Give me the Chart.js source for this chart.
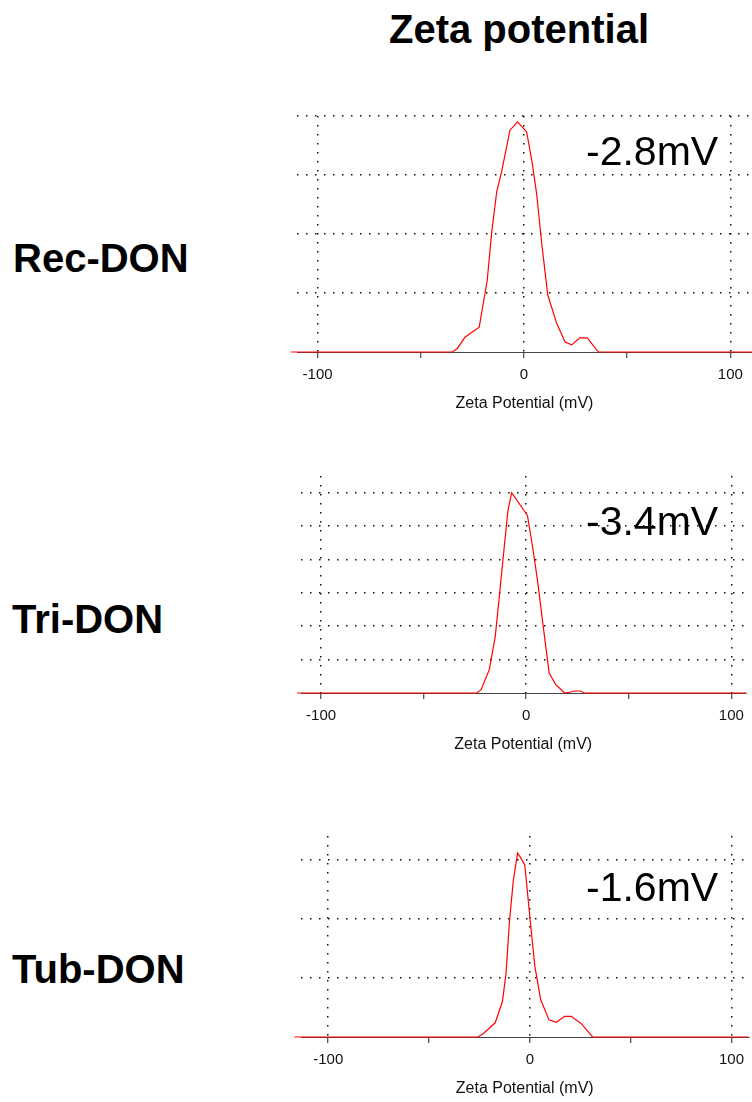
<!DOCTYPE html>
<html>
<head>
<meta charset="utf-8">
<script src="https://cdn.jsdelivr.net/npm/chart.js@4.4.1/dist/chart.umd.min.js"></script>
<style>
  body { margin: 0; background: #fff; width: 752px; height: 1102px; position: relative; overflow: hidden; font-family: 'Liberation Sans', Arial, sans-serif; }
  canvas { position: absolute; }
  .big { position: absolute; font-size: 40px; line-height: 40px; font-weight: bold; color: #000; white-space: nowrap; }
  .note { position: absolute; font-size: 41px; line-height: 40px; color: #000; white-space: nowrap; }
</style>
</head>
<body>
<div class="big" style="left:389px;top:9px">Zeta potential</div>
<div class="big" style="left:13px;top:238px">Rec-DON</div>
<div class="big" style="left:12px;top:599px">Tri-DON</div>
<div class="big" style="left:12px;top:949px">Tub-DON</div>

<canvas id="rec" width="472" height="305" style="left:280px;top:108px"></canvas>
<canvas id="tri" width="472" height="286" style="left:280px;top:468px"></canvas>
<canvas id="tub" width="472" height="270" style="left:280px;top:828px"></canvas>

<div class="note" style="left:586px;top:131px">-2.8mV</div>
<div class="note" style="left:586px;top:501px">-3.4mV</div>
<div class="note" style="left:586px;top:867px">-1.6mV</div>

<script>
// zeta potential distributions (mV vs. intensity)
const recX = [-113, -34.8, -32.3, -28.6, -21.7, -17.8, -15.7, -13.2, -10.8, -6.8, -3.1, 1.3, 4.0, 6.1, 8.6, 11.5, 15.8, 19.9, 23.1, 27.1, 30.7, 36.0, 110.5];
const recY = [0, 0, 0.06, 0.25, 0.42, 1.22, 2.01, 2.72, 3.06, 3.76, 3.90, 3.73, 3.20, 2.69, 1.84, 0.97, 0.49, 0.17, 0.12, 0.24, 0.24, 0, 0];

const triX = [-111.7, -24.1, -22.0, -18.0, -15.1, -12.8, -10.7, -8.9, -7.1, 0.6, 3.1, 5.5, 8.3, 11.2, 14.4, 18.8, 21.7, 23.5, 26.5, 28.2, 107.4];
const triY = [0, 0, 0.1, 0.7, 1.69, 3.08, 4.38, 5.47, 6.0, 5.32, 4.38, 3.38, 1.99, 0.6, 0.25, 0, 0.03, 0.06, 0.06, 0, 0];

const tubX = [-116.8, -25.8, -23.0, -17.2, -13.6, -11.8, -10.2, -8.2, -6.1, -4.9, -2.5, 0, 2.5, 5.4, 9.5, 13.1, 17.2, 20.5, 25.4, 31.1, 108.4];
const tubY = [0, 0, 0.06, 0.24, 0.6, 1.08, 1.92, 2.65, 3.11, 3.05, 2.91, 2.03, 1.19, 0.63, 0.29, 0.25, 0.35, 0.35, 0.23, 0, 0];

const xTicks = [-100, -50, 0, 50, 100];
const recGrid = [1, 2, 3, 4];
const triGrid = [1, 2, 3, 4, 5, 6];
const tubGrid = [1, 2, 3];

Chart.defaults.font.family = "'Liberation Sans', Arial, sans-serif";
const dots = [1.5, 7.5];

function panel(id, xs, ys, xMin, xMax, yMax, yGrid, padL, padR) {
  const pts = xs.map((x, i) => ({ x: x, y: ys[i] }));
  return new Chart(document.getElementById(id), {
    type: 'line',
    data: {
      datasets: [{
        data: pts,
        borderColor: '#ff0000',
        borderWidth: 1.2,
        pointRadius: 0,
        tension: 0,
        fill: false,
        clip: false
      }]
    },
    options: {
      responsive: false,
      animation: false,
      events: [],
      layout: { padding: { top: 8, left: padL, right: padR, bottom: 0 } },
      plugins: { legend: { display: false }, tooltip: { enabled: false } },
      scales: {
        x: {
          type: 'linear',
          min: xMin,
          max: xMax,
          afterBuildTicks: a => { a.ticks = xTicks.map(v => ({ value: v })); },
          afterFit: a => { a.height = 61; },
          ticks: {
            color: '#111',
            font: { size: 15 },
            padding: 8,
            maxRotation: 0,
            autoSkip: false,
            callback: v => (v % 100 === 0 ? String(v) : '')
          },
          grid: {
            color: c => (c.tick && c.tick.value % 100 === 0 ? '#111' : 'rgba(0,0,0,0)'),
            lineWidth: 1.5,
            tickLength: 6,
            tickWidth: 1,
            tickColor: '#222',
            tickBorderDash: []
          },
          border: { display: true, color: '#444', width: 1, dash: dots },
          title: { display: true, text: 'Zeta Potential (mV)', color: '#111', font: { size: 16 }, padding: 0 }
        },
        y: {
          min: 0,
          max: yMax,
          afterBuildTicks: a => { a.ticks = yGrid.map(v => ({ value: v })); },
          afterFit: a => { a.width = 0; },
          ticks: { display: false },
          grid: { color: '#111', lineWidth: 1.5, drawTicks: false },
          border: { display: false, dash: dots }
        }
      }
    }
  });
}

panel('rec', recX, recY, -110.0, 110.5, 4, recGrid, 17, 0);
panel('tri', triX, triY, -109.8, 106.9, 6.5, triGrid, 21, 5);
panel('tub', tubX, tubY, -113.5, 108.4, 3.4, tubGrid, 21, 0);
</script>
</body>
</html>
